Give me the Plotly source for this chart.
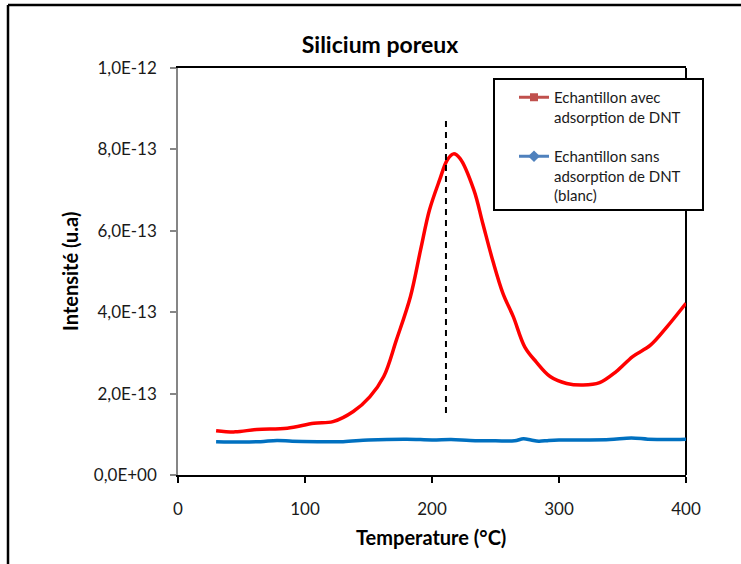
import plotly.graph_objects as go

# ---- data (intensity in a.u.) ----
temp_avec = [30, 45, 62, 86, 107, 122, 138, 151, 162, 172, 183, 191, 198, 206, 212, 217, 222,
             233, 240, 248, 256, 264, 273, 282, 293, 306, 319, 332, 345, 358, 372, 385, 400]
int_avec = [1.09e-13, 1.06e-13, 1.12e-13, 1.15e-13, 1.27e-13, 1.31e-13, 1.56e-13, 1.92e-13,
            2.42e-13, 3.32e-13, 4.38e-13, 5.53e-13, 6.51e-13, 7.25e-13, 7.74e-13, 7.89e-13,
            7.78e-13, 7.0e-13, 6.18e-13, 5.25e-13, 4.45e-13, 3.89e-13, 3.15e-13, 2.78e-13,
            2.42e-13, 2.25e-13, 2.21e-13, 2.27e-13, 2.54e-13, 2.91e-13, 3.19e-13, 3.64e-13,
            4.22e-13]

temp_sans = [30, 50, 65, 78, 90, 110, 130, 150, 180, 200, 215, 230, 250, 265, 272, 278, 284,
             292, 300, 320, 340, 357, 370, 385, 400]
int_sans = [0.82e-13, 0.81e-13, 0.82e-13, 0.85e-13, 0.83e-13, 0.82e-13, 0.82e-13, 0.86e-13,
            0.88e-13, 0.86e-13, 0.87e-13, 0.85e-13, 0.84e-13, 0.84e-13, 0.89e-13, 0.86e-13,
            0.83e-13, 0.85e-13, 0.86e-13, 0.86e-13, 0.87e-13, 0.91e-13, 0.88e-13, 0.87e-13,
            0.88e-13]

peak_x = [211, 211]
peak_y = [8.7e-13, 1.43e-13]

x_ticks = [0, 100, 200, 300, 400]
y_ticks = [0, 2e-13, 4e-13, 6e-13, 8e-13, 1e-12]
y_ticktext = ["0,0E+00", "2,0E-13", "4,0E-13", "6,0E-13", "8,0E-13", "1,0E-12"]

name_avec = "Echantillon avec<br>adsorption de DNT"
name_sans = "Echantillon sans<br>adsorption de DNT<br>(blanc)"

FONT = "Lato"
TXT = "#1a1a1a"

fig = go.Figure()

fig.add_trace(go.Scatter(x=temp_sans, y=int_sans, mode="lines", line=dict(color="#0070C0", width=3.5, shape="spline"),
                         showlegend=False, hoverinfo="skip"))
fig.add_trace(go.Scatter(x=temp_avec, y=int_avec, mode="lines", line=dict(color="#FF0000", width=3.5, shape="spline"),
                         showlegend=False, hoverinfo="skip"))
fig.add_trace(go.Scatter(x=peak_x, y=peak_y, mode="lines", line=dict(color="black", width=2, dash="6px,5px"),
                         showlegend=False, hoverinfo="skip"))

# legend entries (Excel-style markers)
fig.add_trace(go.Scatter(x=[None], y=[None], mode="lines+markers", name=name_avec, legendgroup="a",
                         line=dict(color="#C0504D", width=3), marker=dict(symbol="square", size=8, color="#C0504D")))
fig.add_trace(go.Scatter(x=[None], y=[None], mode="lines+markers", name=name_sans, legendgroup="b",
                         line=dict(color="#4F81BD", width=3), marker=dict(symbol="diamond", size=9, color="#4F81BD")))

L, R, T, B = 178, 55, 68, 89
W, H = 741, 564
pw, ph = W - L - R, H - T - B

def px_x(p):
    return (p - L) / pw

def px_y(p):
    return (H - B - p) / ph

fig.update_layout(
    width=W, height=H,
    margin=dict(l=L, r=R, t=T, b=B),
    paper_bgcolor="white", plot_bgcolor="white",
    font=dict(family=FONT, color=TXT),
    title=dict(text="<b>Silicium poreux</b>", x=380 / W, xref="container", xanchor="center",
               y=1 - 45 / H, yanchor="middle", font=dict(size=23, family=FONT, color="black")),
    legend=dict(x=px_x(514), y=px_y(81), xanchor="left", yanchor="top",
                borderwidth=0, bgcolor="rgba(0,0,0,0)",
                font=dict(size=15, family=FONT, color=TXT),
                valign="top", tracegroupgap=17, traceorder="grouped"),
    xaxis=dict(range=[0, 400], tickvals=x_ticks, showgrid=False, zeroline=False,
               showline=True, linecolor="black", linewidth=2, mirror=True,
               ticks="outside", ticklen=6, tickcolor="black", tickwidth=1.5,
               tickfont=dict(size=17, family=FONT, color=TXT), ticklabelstandoff=12),
    yaxis=dict(range=[0, 1e-12], tickvals=y_ticks, ticktext=y_ticktext, showgrid=False, zeroline=False,
               showline=True, linecolor="#868686", linewidth=1.5,
               ticks="outside", ticklen=6, tickcolor="#868686", tickwidth=1.5,
               tickfont=dict(size=17, family=FONT, color=TXT), ticklabelstandoff=10),
    annotations=[
        dict(text="<b>Intensité (u.a)</b>", xref="paper", yref="paper", x=px_x(70), y=px_y(272),
             textangle=-90, showarrow=False, xanchor="center", yanchor="middle",
             font=dict(size=20, family=FONT, color="black")),
        dict(text="<b>Temperature (°C)</b>", xref="paper", yref="paper", x=px_x(431), y=px_y(537),
             showarrow=False, xanchor="center", yanchor="middle",
             font=dict(size=20, family=FONT, color="black")),
    ],
    shapes=[
        # right border of plot area
        dict(type="line", xref="paper", yref="paper", x0=1, x1=1, y0=0, y1=1,
             line=dict(color="black", width=2), layer="below"),
        # legend box
        dict(type="rect", xref="paper", yref="paper", x0=px_x(494), x1=px_x(703), y0=px_y(210), y1=px_y(79),
             line=dict(color="black", width=2), fillcolor="white", layer="above"),
        # outer frame (left and top)
        dict(type="line", xref="paper", yref="paper", x0=px_x(8), x1=px_x(8), y0=px_y(5), y1=px_y(H + 5),
             line=dict(color="black", width=2.5)),
        dict(type="line", xref="paper", yref="paper", x0=px_x(8), x1=px_x(W + 5), y0=px_y(5), y1=px_y(5),
             line=dict(color="black", width=2.5)),
    ],
)

fig.write_html("out.html", config={"displayModeBar": False},
               post_script="document.body.style.margin='0';")
